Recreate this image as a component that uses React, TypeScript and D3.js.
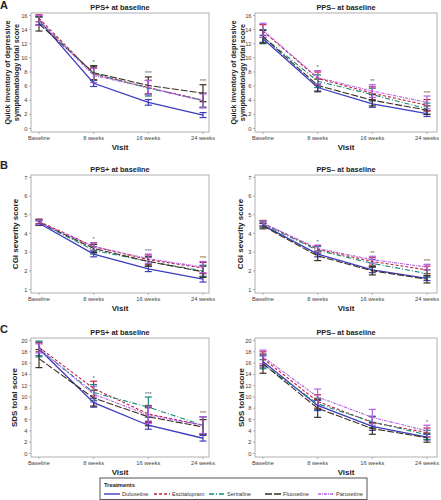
import React from "react";
import * as d3 from "d3";

const visits = ["Baseline", "8 weeks", "16 weeks", "24 weeks"];
const treatments = ["Duloxetine", "Escitalopram", "Sertraline", "Fluoxetine", "Paroxetine"];
const colors = ["#3c3cc0", "#c41e3a", "#138a78", "#3d2e1e", "#b25ee6"];
const dashes = ["", "3,2", "5,2,1,2", "7,2", "3,1,1,1"];

// Panel A: QIDS
const qidsPlusMean = [
  [15.3, 6.4, 3.7, 1.9],
  [15.6, 7.7, 5.8, 4.0],
  [15.2, 7.8, 5.7, 4.0],
  [14.8, 7.9, 6.1, 5.0],
  [15.3, 7.5, 5.8, 3.9],
];
const qidsPlusErr = [
  [0.6, 0.45, 0.4, 0.35],
  [0.5, 0.9, 1.0, 1.0],
  [0.6, 1.0, 1.1, 1.0],
  [1.0, 1.0, 1.2, 1.2],
  [0.7, 1.0, 1.0, 1.0],
];
const qidsMinusMean = [
  [12.7, 5.8, 3.5, 2.1],
  [13.8, 7.1, 5.0, 3.3],
  [13.0, 6.7, 4.8, 2.8],
  [13.0, 6.1, 4.0, 2.6],
  [13.9, 7.2, 5.3, 3.7],
];
const qidsMinusErr = [
  [0.5, 0.5, 0.5, 0.4],
  [0.9, 0.9, 0.9, 0.8],
  [1.0, 0.9, 0.9, 0.8],
  [0.9, 0.9, 0.8, 0.6],
  [1.0, 1.0, 0.9, 0.9],
];
// Panel B: CGI-S
const cgiPlusMean = [
  [4.55, 2.9, 2.1, 1.55],
  [4.65, 3.3, 2.6, 2.15],
  [4.6, 3.1, 2.5, 2.0],
  [4.6, 3.2, 2.5, 1.95],
  [4.6, 3.3, 2.65, 2.2],
];
const cgiPlusErr = [
  [0.12, 0.15, 0.14, 0.15],
  [0.12, 0.2, 0.25, 0.3],
  [0.12, 0.2, 0.25, 0.3],
  [0.15, 0.22, 0.25, 0.3],
  [0.12, 0.2, 0.25, 0.3],
];
const cgiMinusMean = [
  [4.45, 2.9, 2.05, 1.6],
  [4.55, 3.15, 2.5, 2.05],
  [4.5, 3.1, 2.4, 1.85],
  [4.4, 2.8, 2.0, 1.55],
  [4.55, 3.2, 2.6, 2.2],
];
const cgiMinusErr = [
  [0.1, 0.15, 0.15, 0.12],
  [0.15, 0.2, 0.2, 0.2],
  [0.15, 0.2, 0.2, 0.2],
  [0.15, 0.25, 0.22, 0.2],
  [0.12, 0.18, 0.18, 0.15],
];
// Panel C: SDS
const sdsPlusMean = [
  [18.5, 9.0, 5.0, 2.7],
  [18.8, 11.5, 7.0, 5.0],
  [18.5, 10.8, 8.2, 5.0],
  [16.8, 9.8, 6.5, 4.7],
  [18.6, 10.5, 6.8, 5.0],
];
const sdsPlusErr = [
  [1.2, 0.8, 0.7, 0.5],
  [0.8, 1.3, 1.5, 1.5],
  [1.4, 1.4, 1.8, 1.5],
  [1.6, 1.4, 1.6, 1.3],
  [0.8, 1.4, 1.5, 1.5],
];
const sdsMinusMean = [
  [16.3, 8.5, 4.8, 2.9],
  [16.8, 9.2, 5.5, 3.7],
  [15.8, 8.8, 5.6, 3.3],
  [15.9, 8.0, 4.4, 2.8],
  [17.1, 10.0, 6.4, 4.0],
];
const sdsMinusErr = [
  [1.0, 0.9, 0.7, 0.5],
  [1.2, 1.2, 1.0, 0.8],
  [0.8, 1.0, 1.0, 0.8],
  [1.7, 1.6, 1.0, 0.8],
  [1.2, 1.4, 1.4, 1.0],
];

const qidsTicks = [0, 2, 4, 6, 8, 10, 12, 14, 16];
const cgiTicks = [1, 2, 3, 4, 5, 6, 7];
const sdsTicks = [0, 2, 4, 6, 8, 10, 12, 14, 16, 18, 20];

const starsQidsPlus = ["", "*", "***", "***"];
const starsQidsMinus = ["", "*", "**", "***"];
const starsCgiPlus = ["", "*", "***", "***"];
const starsCgiMinus = ["", "*", "**", "***"];
const starsSdsPlus = ["", "*", "***", "***"];
const starsSdsMinus = ["", "", "", "*"];

const FONT = "'Liberation Sans', Arial, sans-serif";

type PanelProps = {
  x0: number; x1: number; px0: number; px1: number; y0: number; y1: number;
  domain: [number, number]; ticks: number[];
  means: number[][]; errs: number[][]; stars: string[];
  title: string; ylabel: string[]; ylabelX: number; ylabelSize: number;
};

function Panel(p: PanelProps) {
  const x = d3.scalePoint<string>().domain(visits).range([p.px0, p.px1]);
  const y = d3.scaleLinear().domain(p.domain).range([p.y1 - 3.5, p.y0 + 2.5]);
  const line = d3.line<number>().x((_, i) => x(visits[i]) as number).y((v) => y(v));
  const cx = (p.x0 + p.x1) / 2;
  const cy = (p.y0 + p.y1) / 2;
  return (
    <g>
      <text x={cx} y={p.y0 - 3} textAnchor="middle" fontFamily={FONT} fontWeight="bold" fontSize={7.4} fill="#222">{p.title}</text>
      <rect x={p.x0} y={p.y0} width={p.x1 - p.x0} height={p.y1 - p.y0} fill="white" stroke="#b0b0b0" strokeWidth={1} />
      {p.ticks.map((t) => (
        <g key={t}>
          <line x1={p.x0 - 2} x2={p.x0} y1={y(t)} y2={y(t)} stroke="#888" strokeWidth={0.6} />
          <text x={p.x0 - 3.5} y={y(t) + 2} textAnchor="end" fontFamily={FONT} fontSize={5.7} fill="#444">{t}</text>
        </g>
      ))}
      {visits.map((v) => (
        <g key={v}>
          <line x1={x(v)} x2={x(v)} y1={p.y1} y2={p.y1 + 2} stroke="#888" strokeWidth={0.6} />
          <text x={x(v)} y={p.y1 + 7.5} textAnchor="middle" fontFamily={FONT} fontSize={5.7} fill="#444">{v}</text>
        </g>
      ))}
      <text x={cx} y={p.y1 + 17.5} textAnchor="middle" fontFamily={FONT} fontWeight="bold" fontSize={8} fill="#222">Visit</text>
      {p.ylabel.map((l, i) => (
        <text key={i} transform={`translate(${p.ylabelX + i * 9},${cy}) rotate(-90)`} textAnchor="middle" fontFamily={FONT} fontWeight="bold" fontSize={p.ylabelSize} fill="#222">{l}</text>
      ))}
      {treatments.map((t, ti) => (
        <g key={t}>
          {p.means[ti].map((m, i) => {
            const xx = x(visits[i]) as number;
            const e = p.errs[ti][i];
            return (
              <g key={i} stroke={colors[ti]} strokeWidth={1.2}>
                <line x1={xx} x2={xx} y1={y(m - e)} y2={y(m + e)} />
                <line x1={xx - 3.5} x2={xx + 3.5} y1={y(m - e)} y2={y(m - e)} />
                <line x1={xx - 3.5} x2={xx + 3.5} y1={y(m + e)} y2={y(m + e)} />
              </g>
            );
          })}
        </g>
      ))}
      {treatments.map((t, ti) => (
        <path key={t} d={line(p.means[ti]) || ""} fill="none" stroke={colors[ti]} strokeWidth={ti === 0 ? 1.3 : 1.1} strokeDasharray={dashes[ti]} />
      ))}
      {p.stars.map((s, i) => {
        if (!s) return null;
        const top = d3.max(treatments.map((_, ti) => p.means[ti][i] + p.errs[ti][i])) as number;
        return (
          <text key={i} x={x(visits[i])} y={y(top) - 1.5} textAnchor="middle" fontFamily={FONT} fontSize={5.5} fill="#555">{s}</text>
        );
      })}
    </g>
  );
}

export default function App() {
  const L = { x0: 31, x1: 209, px0: 39, px1: 203 };
  const R = { x0: 255, x1: 437, px0: 263, px1: 427 };
  const rows = [
    { y0: 13, y1: 132 },
    { y0: 175, y1: 293 },
    { y0: 338, y1: 457 },
  ];
  const legendX = [104, 154, 209, 265, 318];
  return (
    <svg width={441} height={500} style={{ position: "absolute", left: 0, top: 0, background: "white" }}>
      <text x={0} y={9} fontFamily={FONT} fontWeight="bold" fontSize={11} fill="#222">A</text>
      <text x={0} y={169} fontFamily={FONT} fontWeight="bold" fontSize={11} fill="#222">B</text>
      <text x={0} y={333} fontFamily={FONT} fontWeight="bold" fontSize={11} fill="#222">C</text>

      <Panel {...L} {...rows[0]} domain={[0, 16]} ticks={qidsTicks} means={qidsPlusMean} errs={qidsPlusErr} stars={starsQidsPlus}
        title="PPS+ at baseline" ylabel={["Quick inventory of depressive", "symptomatology total score"]} ylabelX={9.5} ylabelSize={7.3} />
      <Panel {...R} {...rows[0]} domain={[0, 16]} ticks={qidsTicks} means={qidsMinusMean} errs={qidsMinusErr} stars={starsQidsMinus}
        title="PPS– at baseline" ylabel={["Quick inventory of depressive", "symptomatology total score"]} ylabelX={235.5} ylabelSize={7.3} />
      <Panel {...L} {...rows[1]} domain={[1, 7]} ticks={cgiTicks} means={cgiPlusMean} errs={cgiPlusErr} stars={starsCgiPlus}
        title="PPS+ at baseline" ylabel={["CGI severity score"]} ylabelX={17.5} ylabelSize={8} />
      <Panel {...R} {...rows[1]} domain={[1, 7]} ticks={cgiTicks} means={cgiMinusMean} errs={cgiMinusErr} stars={starsCgiMinus}
        title="PPS– at baseline" ylabel={["CGI severity score"]} ylabelX={242.5} ylabelSize={8} />
      <Panel {...L} {...rows[2]} domain={[0, 20]} ticks={sdsTicks} means={sdsPlusMean} errs={sdsPlusErr} stars={starsSdsPlus}
        title="PPS+ at baseline" ylabel={["SDS total score"]} ylabelX={16.5} ylabelSize={8} />
      <Panel {...R} {...rows[2]} domain={[0, 20]} ticks={sdsTicks} means={sdsMinusMean} errs={sdsMinusErr} stars={starsSdsMinus}
        title="PPS– at baseline" ylabel={["SDS total score"]} ylabelX={244} ylabelSize={8} />

      <rect x={100} y={478} width={267} height={21.5} fill="white" stroke="#555" strokeWidth={1} />
      <text x={104} y={487} fontFamily={FONT} fontWeight="bold" fontSize={5.8} fill="#222">Treatments</text>
      {treatments.map((t, i) => (
        <g key={t}>
          <line x1={legendX[i]} x2={legendX[i] + 16} y1={494} y2={494} stroke={colors[i]} strokeWidth={1.4} strokeDasharray={dashes[i]} />
          <text x={legendX[i] + 18} y={495.5} fontFamily={FONT} fontSize={5.6} fill="#333">{t}</text>
        </g>
      ))}
    </svg>
  );
}
